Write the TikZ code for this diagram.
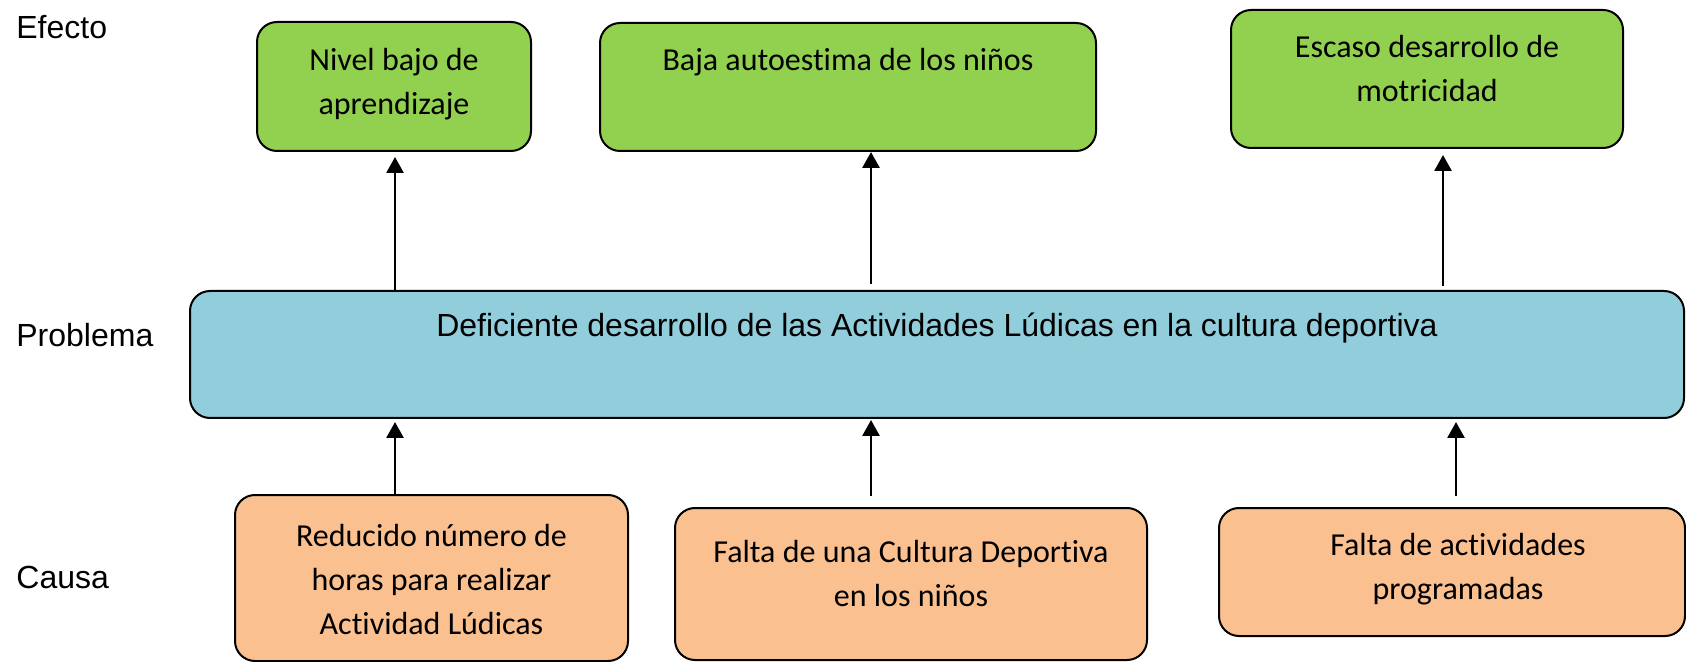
\documentclass[tikz,border=0pt]{standalone}
\usepackage{fontspec}
\setmainfont{Carlito}[Ligatures=CommonOff]
\newfontfamily\arial{Liberation Sans}
\usetikzlibrary{arrows.meta}

\definecolor{verde}{HTML}{92D050}
\definecolor{celeste}{HTML}{92CDDC}
\definecolor{naranja}{HTML}{FAC090}

\begin{document}
\begin{tikzpicture}[x=0.5pt, y=-0.5pt]
\tikzstyle{caja}=[draw=black, line width=1pt, rounded corners=10pt]
\tikzstyle{efecto}=[caja, fill=verde]
\tikzstyle{causa}=[caja, fill=naranja]
\tikzstyle{problema}=[caja, fill=celeste]
\tikzstyle{txt}=[align=center, font=\fontsize{16}{22}\selectfont, inner sep=0pt]
\tikzstyle{nivel}=[anchor=west, font=\arial\fontsize{16}{19}\selectfont, inner sep=0pt]
\tikzstyle{flecha}=[-{Triangle[width=8.5pt,length=8pt]}, line width=1.4pt]
\useasboundingbox (0,0) rectangle (1686,662);
\node[nivel] (lefecto) at (16,27) {Efecto};
\node[nivel] (lproblema) at (16,335) {Problema};
\node[nivel] (lcausa) at (16,577) {Causa};
\node[efecto, minimum width=137pt, minimum height=64.5pt] (e1) at (394,86.5) {};
\node[txt] (e1t) at (394,84.5) {Nivel bajo de\\aprendizaje};
\node[efecto, minimum width=248pt, minimum height=64pt] (e2) at (848,87) {};
\node[txt] (e2t) at (848,62) {Baja autoestima de los niños};
\node[efecto, minimum width=196pt, minimum height=69pt] (e3) at (1427,79) {};
\node[txt] (e3t) at (1427,69) {Escaso desarrollo de\\motricidad};
\node[problema, minimum width=747pt, minimum height=63.5pt] (prob) at (937,354.5) {};
\node[txt, font=\arial\fontsize{16}{19}\selectfont] (probt) at (937,328) {Deficiente desarrollo de las Actividades Lúdicas en la cultura deportiva};
\node[causa, minimum width=196.5pt, minimum height=83pt] (c1) at (431.5,578) {};
\node[txt] (c1t) at (431.5,580) {Reducido número de\\horas para realizar\\Actividad Lúdicas};
\node[causa, minimum width=236pt, minimum height=76pt] (c2) at (911,584) {};
\node[txt] (c2t) at (911,573.5) {Falta de una Cultura Deportiva\\en los niños};
\node[causa, minimum width=233pt, minimum height=64pt] (c3) at (1452,572) {};
\node[txt] (c3t) at (1458,569) {Falta de actividades\\programadas};
\coordinate (k1) at (395,0);
\coordinate (k2) at (871,0);
\coordinate (k3) at (1443,0);
\coordinate (k4) at (1456,0);
\path (prob.north -| k1) edge [flecha, shorten >=2.5pt] (e1.south -| k1);
\path (prob.north -| k2) edge [flecha, shorten <=3pt] (e2.south -| k2);
\path (prob.north -| k3) edge [flecha, shorten <=2pt, shorten >=3pt] (e3.south -| k3);
\path (c1.north -| k1) edge [flecha, shorten >=1.5pt] (prob.south -| k1);
\path (c2.north -| k2) edge [flecha, shorten <=5.5pt, shorten >=0.5pt] (prob.south -| k2);
\path (c3.north -| k4) edge [flecha, shorten <=5.5pt, shorten >=1.5pt] (prob.south -| k4);
\end{tikzpicture}
\end{document}
